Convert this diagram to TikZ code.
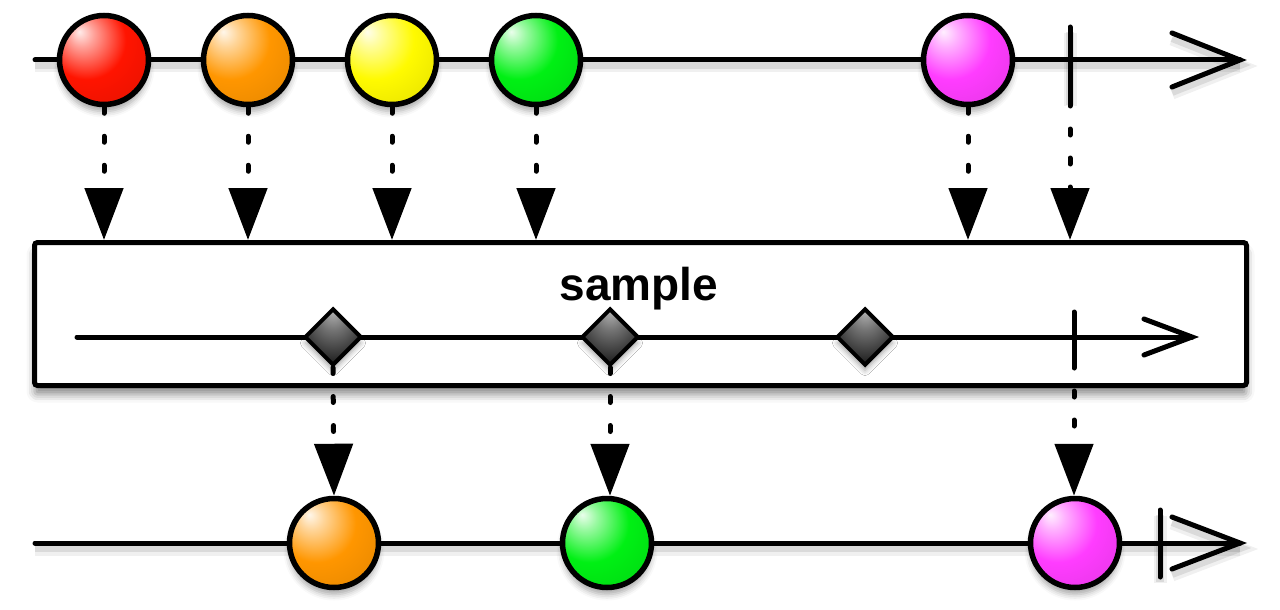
\documentclass[tikz,border=0pt]{standalone}
\usepackage{fontspec}
\setmainfont{Liberation Sans}
\usetikzlibrary{arrows.meta,shapes.geometric,shadows.blur}
\colorlet{marblec}{red}
\pgfdeclareradialshading[marblec]{marble}{\pgfpoint{-14bp}{16bp}}{%
  color(0bp)=(marblec!8!white); color(7bp)=(marblec!40!white); color(22bp)=(marblec);
  color(42bp)=(marblec!90!black); color(56bp)=(marblec!68!black); color(72bp)=(marblec!40!black)}
\pgfdeclareradialshading{diamondshade}{\pgfpoint{0bp}{24bp}}{%
  color(0bp)=(black!30); color(12bp)=(black!55); color(30bp)=(black!85); color(48bp)=(black)}
\definecolor{mred}{RGB}{255,20,0}
\definecolor{morange}{RGB}{255,150,0}
\definecolor{myellow}{RGB}{255,250,0}
\definecolor{mgreen}{RGB}{0,240,20}
\definecolor{mmagenta}{RGB}{255,60,255}
\tikzset{
  lsh/.style={preaction={draw=black,opacity=0.06,line width=13pt,transform canvas={yshift=-6pt}},
              preaction={draw=black,opacity=0.09,line width=8pt,transform canvas={yshift=-5pt}}},
  tline/.style={line width=5pt,line cap=round,line join=miter,lsh},
  mb/.style={circle,draw,line width=5.5pt,minimum size=89pt,inner sep=0pt,
             /utils/exec={\colorlet{marblec}{#1}},shading=marble,
             blur shadow={shadow xshift=0pt,shadow yshift=-7pt,shadow blur radius=6pt,shadow opacity=35}},
  dm/.style={diamond,draw,line width=4pt,minimum width=57pt,minimum height=57pt,inner sep=0pt,
             shading=diamondshade,
             blur shadow={shadow xshift=0pt,shadow yshift=-6pt,shadow blur radius=5pt,shadow opacity=35}},
  opbox/.style={draw,line width=5pt,rounded corners=3pt,fill=white,minimum width=1212pt,
             minimum height=143pt,inner sep=0pt,
             blur shadow={shadow xshift=0pt,shadow yshift=-9pt,shadow blur radius=8pt,shadow opacity=45}},
  conn/.style={line width=5pt,line cap=round,dash pattern=on 6pt off 23pt,
             -{Triangle[length=52pt,width=38pt]}},
  label/.style={font=\fontsize{46}{50}\selectfont\bfseries,inner sep=0pt}
}
\begin{document}
\begin{tikzpicture}[x=1pt,y=-1pt]
\useasboundingbox (0,0) rectangle (1280,610);
% ---------- top timeline ----------
\coordinate (ts) at (35,60);
\coordinate (te) at (1240,60);
\draw[tline] (ts) -- (te);
\coordinate (tw1) at (1172,33);
\coordinate (tw2) at (1172,87);
\draw[tline] (tw1) -- (te) -- (tw2);
\coordinate (tk1) at (1070,27);
\coordinate (tk2) at (1070,100);
\draw[tline] (tk1) -- (tk2);
\node[mb=mred] (a1) at (104,60) {};
\node[mb=morange] (a2) at (248,60) {};
\node[mb=myellow] (a3) at (392,60) {};
\node[mb=mgreen] (a4) at (536,60) {};
\node[mb=mmagenta] (a5) at (968,60) {};
% ---------- operator box ----------
\node[opbox] (bx) at (640.5,314) {};
\node[label,anchor=base] (lbl) at (639,300) {sample};
\coordinate (is) at (77,337);
\coordinate (ie) at (1192,337);
\draw[line width=5pt,line cap=round] (is) -- (ie);
\coordinate (iw1) at (1144,319);
\coordinate (iw2) at (1144,355);
\draw[line width=5pt,line cap=round,line join=miter] (iw1) -- (ie) -- (iw2);
\coordinate (ik1) at (1074,312);
\coordinate (ik2) at (1074,362);
\draw[line width=5pt,line cap=round] (ik1) -- (ik2);
\node[dm] (d1) at (333,337) {};
\node[dm] (d2) at (610,337) {};
\node[dm] (d3) at (865,337) {};
% ---------- top connectors ----------
\foreach \m in {a1,a2,a3,a4,a5}{
  \draw[conn] (\m.south) -- (\m.south |- bx.north);
}
\draw[conn] (tk2) -- (tk2 |- bx.north);
% ---------- bottom timeline ----------
\coordinate (bs) at (35,543);
\coordinate (be) at (1240,543);
\draw[tline] (bs) -- (be);
\coordinate (bw1) at (1172,517);
\coordinate (bw2) at (1172,569);
\draw[tline] (bw1) -- (be) -- (bw2);
\coordinate (bk1) at (1160,510);
\coordinate (bk2) at (1160,577);
\draw[tline] (bk1) -- (bk2);
\node[mb=morange] (b1) at (334,543) {};
\node[mb=mgreen] (b2) at (607,543) {};
\node[mb=mmagenta] (b3) at (1075,543) {};
% ---------- bottom connectors ----------
\draw[conn] (d1.south) -- (b1.north);
\draw[conn] (d2.south) -- (d2.south |- b2.north);
\draw[conn] (ik2) -- (ik2 |- b3.north);
\end{tikzpicture}
\end{document}
